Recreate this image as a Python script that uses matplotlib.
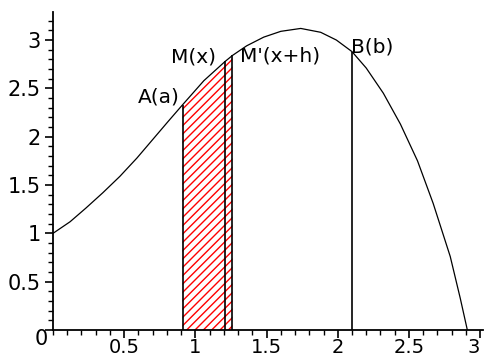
import numpy as np
import matplotlib
matplotlib.use("Agg")
import matplotlib.pyplot as plt
from matplotlib.ticker import MultipleLocator

# curve points
curve_x = [0.00, 0.12, 0.23, 0.35, 0.47, 0.59, 0.70, 0.81, 0.91, 1.06,
           1.21, 1.26, 1.36, 1.48, 1.60, 1.74, 1.88, 1.99, 2.10,
           2.20, 2.32, 2.44, 2.56, 2.67, 2.79, 2.86, 2.91]
curve_y = [1.00, 1.12, 1.26, 1.42, 1.59, 1.78, 1.97, 2.16, 2.33, 2.58,
           2.78, 2.84, 2.94, 3.03, 3.09, 3.12, 3.08, 3.00, 2.88,
           2.71, 2.45, 2.13, 1.75, 1.31, 0.76, 0.33, 0.00]

# vertical segments: A(a), M(x), M'(x+h), B(b)
seg_x = [0.91, 1.21, 1.26, 2.10]
seg_top = [2.33, 2.78, 2.84, 2.88]

point_labels = ["A(a)", "M(x)", "M'(x+h)", "B(b)"]
label_pos = [(0.89, 2.35), (1.145, 2.77), (1.31, 2.78), (2.09, 2.87)]
label_ha = ["right", "right", "left", "left"]

xticks = [0.5, 1, 1.5, 2, 2.5, 3]
xtick_labels = ["0.5", "1", "1.5", "2", "2.5", "3"]
yticks = [0, 0.5, 1, 1.5, 2, 2.5, 3]
ytick_labels = ["", "0.5", "1", "1.5", "2", "2.5", "3"]

plt.rcParams['font.family'] = ['DejaVu Sans']
plt.rcParams['hatch.linewidth'] = 1.0
plt.rcParams['hatch.color'] = 'red'

fig = plt.figure(figsize=(4.84, 3.56), dpi=100)
ax = fig.add_axes([53 / 484, 26 / 356, 430 / 484, 318 / 356])

cx = np.array(curve_x)
cy = np.array(curve_y)

# hatched area between A and M'
mask = (cx >= seg_x[0]) & (cx <= seg_x[2])
ax.fill_between(cx[mask], 0, cy[mask], facecolor='none', edgecolor='red',
                hatch='////', linewidth=0)

ax.plot(cx, cy, color='black', linewidth=0.9)
ax.vlines(seg_x, 0, seg_top, colors='black', linewidth=1.2)

for lab, (px, py), ha in zip(point_labels, label_pos, label_ha):
    ax.text(px, py, lab, ha=ha, va='baseline', fontsize=14.5)

ax.set_xlim(0, 3.02)
ax.set_ylim(0, 3.29)
for s in ['top', 'right']:
    ax.spines[s].set_visible(False)
for s in ['left', 'bottom']:
    ax.spines[s].set_linewidth(1.3)

ax.set_xticks(xticks)
ax.set_xticklabels(xtick_labels)
ax.set_yticks(yticks)
ax.set_yticklabels(ytick_labels)
ax.xaxis.set_minor_locator(MultipleLocator(0.1))
ax.yaxis.set_minor_locator(MultipleLocator(0.1))
ax.tick_params(which='major', length=6, width=1.2, labelsize=15, pad=3)
ax.tick_params(which='minor', length=3.5, width=1.0)
ax.tick_params(axis='x', which='major', labelsize=14, pad=0)
# last label would run off the right edge
ax.get_xticklabels()[-1].set_horizontalalignment('right')

# y-axis zero label sits a little below the axis line in the original
ax.text(-0.035, -0.09, "0", ha='right', va='center', fontsize=15,
        transform=ax.transData, clip_on=False)

fig.savefig("out.png", dpi=100)
